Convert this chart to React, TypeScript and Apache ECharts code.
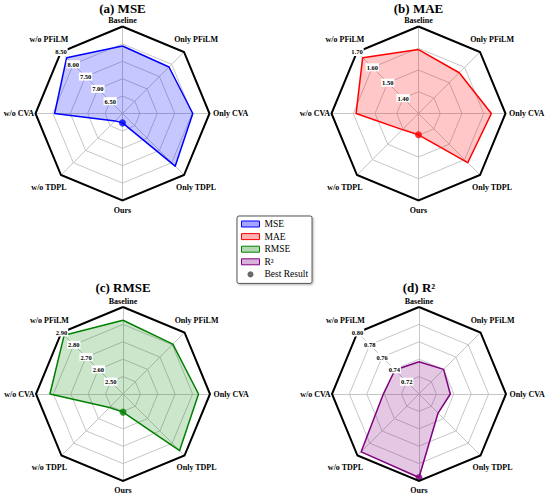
import React, { useEffect, useRef } from 'react';
import * as echarts from 'echarts';

// Categories, clockwise from the top
const CATEGORIES = ['Baseline', 'Only PFiLM', 'Only CVA', 'Only TDPL', 'Ours', 'w/o TDPL', 'w/o CVA', 'w/o PFiLM'];

const METRICS = ['MSE', 'MAE', 'RMSE', 'R²'];
const TITLES = ['(a) MSE', '(b) MAE', '(c) RMSE', '(d) R²'];

const MSE = [7.94, 7.89, 8.02, 8.14, 6.27, 6.30, 7.95, 8.27];
const MAE = [1.594, 1.565, 1.635, 1.62, 1.398, 1.405, 1.587, 1.663];
const RMSE = [2.824, 2.805, 2.834, 2.86, 2.504, 2.51, 2.82, 2.878];
const R2 = [0.737, 0.74, 0.736, 0.731, 0.796, 0.794, 0.741, 0.739];

const AXIS_MIN = [6.0, 1.3, 2.4, 0.7];
const AXIS_MAX = [8.5, 1.7, 2.9, 0.8];
const SPLITS = [5, 4, 5, 5];
const HIGHER_IS_BETTER = [false, false, false, true];

const SERIES_VALUES = [MSE, MAE, RMSE, R2];

// styling / layout
const SERIF = "'Liberation Serif', 'DejaVu Serif', serif";
const LINE_COLORS = ['#0000ff', '#ff0000', '#008000', '#800080'];
const FILL_COLORS = ['rgba(0,0,255,0.22)', 'rgba(255,0,0,0.22)', 'rgba(0,128,0,0.2)', 'rgba(128,0,128,0.22)'];
const LEGEND_FILLS = ['rgba(0,0,255,0.35)', 'rgba(255,0,0,0.3)', 'rgba(0,128,0,0.3)', 'rgba(128,0,128,0.3)'];
const CENTERS: [number, number][] = [[122.5, 113.5], [418.5, 113.5], [123, 394], [419, 394]];
const TITLE_TOPS = [2, 2, 281, 281];
const RADIUS = 87;

// ECharts radar goes counter-clockwise: index order from the top
const ORDER = [0, 7, 6, 5, 4, 3, 2, 1];

function nameOpts(pos: number) {
  if (pos === 0) return { nameGap: 2 };
  if (pos === 4) return { nameGap: 5.5 };
  if (pos === 2) return { nameGap: 1.5 };
  if (pos === 6) return { nameGap: 3.5 };
  return { nameGap: 17, nameTextStyle: { align: 'center', verticalAlign: 'middle' } };
}

function buildOption() {
  const radar: any[] = [];
  const overlay: any[] = [];
  const series: any[] = [];
  const polar: any[] = [];
  const angleAxis: any[] = [];
  const radiusAxis: any[] = [];
  const title: any[] = [];

  for (let p = 0; p < 4; p++) {
    const min = AXIS_MIN[p];
    const max = AXIS_MAX[p];
    const split = SPLITS[p];
    radar.push({
      center: CENTERS[p],
      radius: RADIUS,
      startAngle: 90,
      shape: 'polygon',
      splitNumber: split,
      z: 0,
      indicator: ORDER.map((k, pos) => ({ name: CATEGORIES[k], min, max, ...nameOpts(pos) })),
      axisName: { color: '#000', fontWeight: 'bold', fontSize: 8, fontFamily: SERIF },
      nameGap: 3,
      axisLine: { lineStyle: { color: '#c0c0c0', width: 0.9 } },
      splitLine: { lineStyle: { color: '#c0c0c0', width: 0.9 } },
      splitArea: { show: false },
      axisTick: { show: false },
      axisLabel: { show: false },
    });
    const ringColors: string[] = [];
    for (let i = 0; i <= split; i++) ringColors.push(i === split ? '#000' : 'rgba(0,0,0,0)');
    overlay.push({
      center: CENTERS[p],
      radius: RADIUS,
      startAngle: 90,
      shape: 'polygon',
      splitNumber: split,
      z: 10,
      indicator: ORDER.map((k, pos) => ({
        name: CATEGORIES[k],
        min,
        max,
        ...(pos === 1
          ? {
              axisLabel: {
                show: true,
                showMinLabel: false,
                formatter: (v: number) => Number(v).toFixed(2),
                margin: 0,
                align: 'center',
                verticalAlign: 'middle',
                color: '#000',
                fontSize: 6.5,
                fontWeight: 'bold',
                fontFamily: SERIF,
                backgroundColor: '#fff',
                padding: [1, 1, 0, 1],
              },
            }
          : {}),
      })),
      axisName: { show: false },
      axisLine: { show: false },
      splitLine: { lineStyle: { color: ringColors, width: 2 } },
      splitArea: { show: false },
      axisTick: { show: false },
      axisLabel: { show: false },
    });

    const vals = SERIES_VALUES[p];
    series.push({
      type: 'radar',
      radarIndex: p,
      name: METRICS[p],
      symbol: 'none',
      silent: true,
      z: 2,
      lineStyle: { color: LINE_COLORS[p], width: 1.5 },
      itemStyle: { color: LINE_COLORS[p] },
      areaStyle: { color: FILL_COLORS[p], opacity: 1 },
      data: [{ name: METRICS[p], value: ORDER.map((k) => vals[k]) }],
    });

    // best result dot
    let bestIdx = 0;
    for (let i = 1; i < vals.length; i++) {
      if (HIGHER_IS_BETTER[p] ? vals[i] > vals[bestIdx] : vals[i] < vals[bestIdx]) bestIdx = i;
    }
    polar.push({ center: CENTERS[p], radius: RADIUS });
    angleAxis.push({
      polarIndex: p, type: 'value', min: 0, max: 360, startAngle: 90, clockwise: true, show: false,
      axisLine: { show: false }, axisTick: { show: false }, axisLabel: { show: false }, splitLine: { show: false },
    });
    radiusAxis.push({
      polarIndex: p, type: 'value', min, max, show: false,
      axisLine: { show: false }, axisTick: { show: false }, axisLabel: { show: false }, splitLine: { show: false },
    });
    series.push({
      type: 'scatter',
      coordinateSystem: 'polar',
      polarIndex: p,
      name: 'Best Result',
      symbol: 'circle',
      symbolSize: 7,
      silent: true,
      z: 5,
      itemStyle: { color: LINE_COLORS[p] },
      data: [[vals[bestIdx], (360 * bestIdx) / CATEGORIES.length]],
    });

    title.push({
      text: TITLES[p],
      left: CENTERS[p][0],
      top: TITLE_TOPS[p],
      textAlign: 'center',
      padding: 0,
      textStyle: { fontFamily: SERIF, fontSize: 13, fontWeight: 'bold', color: '#000' },
    });
  }

  return {
    animation: false,
    backgroundColor: '#fff',
    title,
    radar: [...radar, ...overlay],
    polar,
    angleAxis,
    radiusAxis,
    legend: {
      orient: 'vertical',
      left: 237,
      top: 216,
      padding: [3, 4, 4, 4],
      itemWidth: 18,
      itemHeight: 6,
      itemGap: 2.6,
      backgroundColor: '#fff',
      borderColor: '#555',
      borderWidth: 1,
      borderRadius: 2,
      shadowBlur: 2,
      shadowColor: 'rgba(0,0,0,0.3)',
      shadowOffsetX: 1,
      shadowOffsetY: 1,
      selectedMode: false,
      textStyle: { fontFamily: SERIF, fontSize: 9.5, color: '#000' },
      data: [
        ...METRICS.map((m, i) => ({
          name: m,
          icon: 'rect',
          itemStyle: { color: LEGEND_FILLS[i], borderColor: LINE_COLORS[i], borderWidth: 1 },
        })),
        { name: 'Best Result', icon: 'circle', itemStyle: { color: '#444', borderWidth: 0 } },
      ],
    },
    series,
  };
}

export default function App() {
  const ref = useRef<HTMLDivElement>(null);
  useEffect(() => {
    document.body.style.margin = '0';
    if (!ref.current) return;
    const chart = echarts.init(ref.current, undefined, { renderer: 'svg' });
    chart.setOption(buildOption() as any);
    return () => chart.dispose();
  }, []);
  return <div ref={ref} style={{ width: 550, height: 500 }} />;
}
